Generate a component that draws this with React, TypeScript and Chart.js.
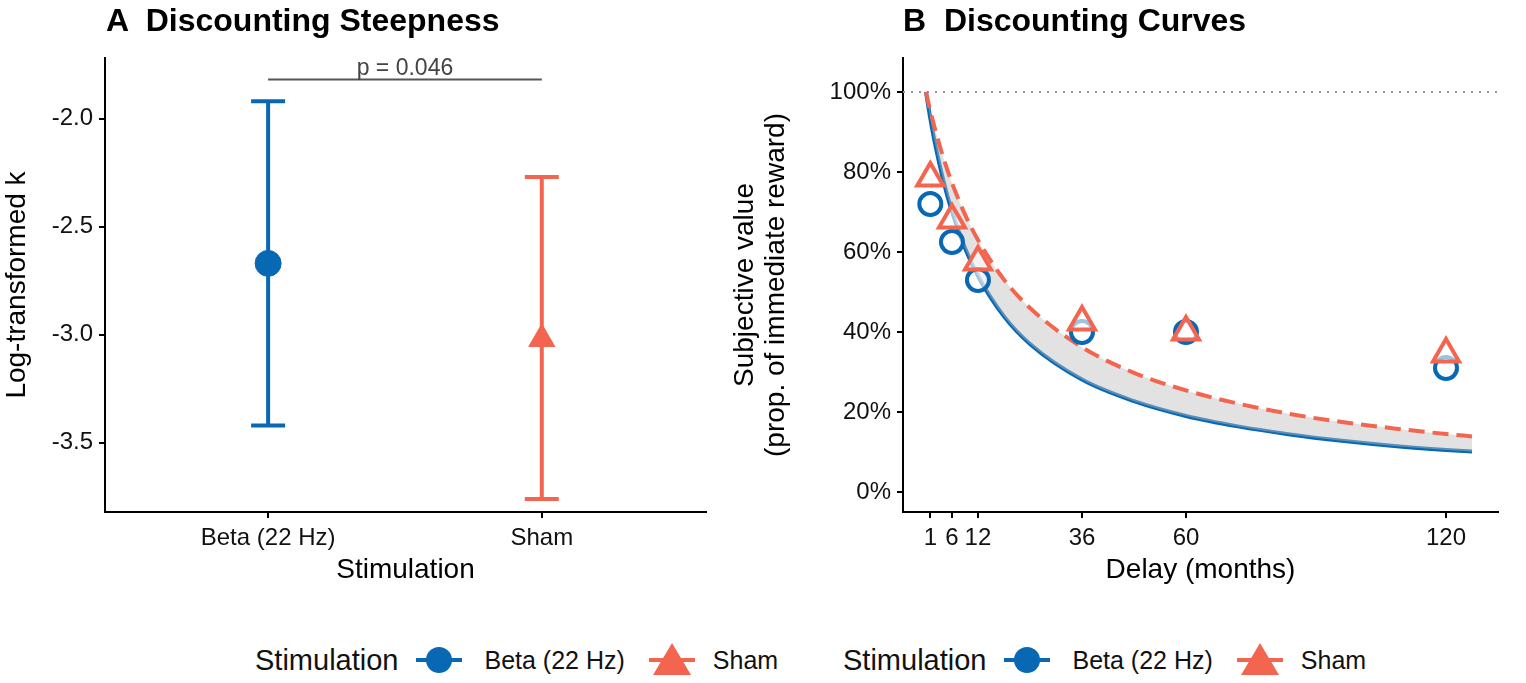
import React, { useEffect, useRef } from "react";
import { Chart, registerables } from "chart.js";
Chart.register(...registerables);

const BLUE = "#0868b4";
const RED = "#f4654f";
const FONT = "'Liberation Sans', Arial, sans-serif";

// Panel A
const groupsA = ["Beta (22 Hz)", "Sham"];
const meanA = [-2.67, -3.02];
const lowA = [-3.42, -3.76];
const highA = [-1.92, -2.27];
const pLabel = "p = 0.046";
const pLevel = -1.82;

// Panel B
const obsDelays = [1, 6, 12, 36, 60, 120];
const obsBeta = [72, 62.5, 53, 40, 40, 31];
const obsSham = [78.5, 68, 57.5, 42.5, 40, 34.5];
const curveDelays = [0, 1, 2, 4, 6, 9, 12, 18, 24, 36, 48, 60, 72, 84, 96, 108, 120, 126];
const curveBeta = [100, 93.4, 87.6, 77.9, 70.1, 61.0, 54.0, 43.9, 37.0, 28.1, 22.7, 19.0, 16.4, 14.4, 12.8, 11.5, 10.5, 10.1];
const curveSham = [100, 95.3, 91.1, 83.6, 77.3, 69.4, 63.0, 53.1, 46.0, 36.2, 29.8, 25.4, 22.1, 19.5, 17.5, 15.9, 14.5, 13.9];
const xTicksB = [1, 6, 12, 36, 60, 120];

const tickFont = { family: FONT, size: 24 };
const titleFont = { family: FONT, size: 28 };

function axisBase() {
  return {
    border: { color: "#000", width: 2 },
    grid: { drawOnChartArea: false, color: "#000", tickLength: 6, lineWidth: 2 },
    ticks: { font: tickFont, color: "#111", padding: 6 },
  };
}

export default function App() {
  const refA = useRef<HTMLCanvasElement>(null);
  const refB = useRef<HTMLCanvasElement>(null);
  useEffect(() => {
    document.body.style.margin = "0";
    const errPlugin = {
      id: "err",
      afterDatasetsDraw(chart: any) {
        const { ctx, scales } = chart;
        const x = scales.x, y = scales.y;
        [BLUE, RED].forEach((c, i) => {
          const px = x.getPixelForValue(i + 1);
          ctx.save();
          ctx.strokeStyle = c;
          ctx.lineWidth = 4;
          ctx.beginPath();
          ctx.moveTo(px, y.getPixelForValue(lowA[i]));
          ctx.lineTo(px, y.getPixelForValue(highA[i]));
          [lowA[i], highA[i]].forEach((v) => {
            ctx.moveTo(px - 17, y.getPixelForValue(v));
            ctx.lineTo(px + 17, y.getPixelForValue(v));
          });
          ctx.stroke();
          ctx.restore();
        });
        const py = y.getPixelForValue(pLevel);
        ctx.save();
        ctx.strokeStyle = "#555";
        ctx.lineWidth = 2;
        ctx.beginPath();
        ctx.moveTo(x.getPixelForValue(1), py);
        ctx.lineTo(x.getPixelForValue(2), py);
        ctx.stroke();
        ctx.fillStyle = "#444";
        ctx.font = `23px ${FONT}`;
        ctx.textAlign = "center";
        ctx.textBaseline = "bottom";
        ctx.fillText(pLabel, (x.getPixelForValue(1) + x.getPixelForValue(2)) / 2, py + 1);
        ctx.restore();
      },
    };
    const a = new Chart(refA.current!, {
      type: "scatter",
      data: {
        datasets: groupsA.map((g, i) => ({
          label: g,
          data: [{ x: i + 1, y: meanA[i] }],
          pointStyle: i === 0 ? "circle" : "triangle",
          pointRadius: i === 0 ? 13 : 15,
          backgroundColor: i === 0 ? BLUE : RED,
          borderColor: i === 0 ? BLUE : RED,
        })),
      },
      options: {
        animation: false, responsive: false,
        layout: { padding: { top: 58, right: 0, left: 0 } },
        plugins: { legend: { display: false }, tooltip: { enabled: false } },
        scales: {
          x: {
            ...axisBase(), type: "linear", min: 0.404, max: 2.6,
            afterBuildTicks: (s: any) => { s.ticks = [{ value: 1 }, { value: 2 }]; },
            ticks: { ...axisBase().ticks, callback: (v: any) => groupsA[v - 1] },
            title: { display: true, text: "Stimulation", font: titleFont, color: "#000", padding: 0 },
            afterFit: (s: any) => { s.height = 75; },
          },
          y: {
            ...axisBase(), min: -3.82, max: -1.72,
            afterBuildTicks: (s: any) => { s.ticks = [-3.5, -3, -2.5, -2].map((v) => ({ value: v })); },
            ticks: { ...axisBase().ticks, callback: (v: any) => v.toFixed(1) },
            title: { display: true, text: "Log-transformed k", font: titleFont, color: "#000", padding: 0 },
            afterFit: (s: any) => { s.width = 105; },
          },
        },
      },
      plugins: [errPlugin],
    });
    const refLine = {
      id: "ref",
      beforeDatasetsDraw(chart: any) {
        const { ctx, scales, chartArea } = chart;
        const py = scales.y.getPixelForValue(100);
        ctx.save();
        ctx.strokeStyle = "#999";
        ctx.lineWidth = 2;
        ctx.setLineDash([2, 6]);
        ctx.beginPath();
        ctx.moveTo(chartArea.left, py);
        ctx.lineTo(chartArea.right, py);
        ctx.stroke();
        ctx.restore();
      },
    };
    const b = new Chart(refB.current!, {
      type: "scatter",
      data: {
        datasets: [
          { label: "betaCurve", data: curveDelays.map((d, i) => ({ x: d, y: curveBeta[i] })), showLine: true, borderColor: BLUE, borderWidth: 4, pointRadius: 0, cubicInterpolationMode: "monotone", fill: false, order: 3 },
          { label: "shamCurve", data: curveDelays.map((d, i) => ({ x: d, y: curveSham[i] })), showLine: true, borderColor: RED, borderWidth: 4, borderDash: [16, 8], pointRadius: 0, cubicInterpolationMode: "monotone", fill: { target: 0 }, backgroundColor: "rgba(190,190,190,0.45)", order: 2 },
          { label: "Beta", data: obsDelays.map((d, i) => ({ x: d, y: obsBeta[i] })), pointStyle: "circle", pointRadius: 11, borderWidth: 4, borderColor: BLUE, backgroundColor: "rgba(255,255,255,0.6)", order: 1 },
          { label: "Sham", data: obsDelays.map((d, i) => ({ x: d, y: obsSham[i] })), pointStyle: "triangle", pointRadius: 15, borderWidth: 4, borderColor: RED, backgroundColor: "rgba(255,255,255,0.6)", order: 0 },
        ] as any,
      },
      options: {
        animation: false, responsive: false,
        layout: { padding: { top: 58, right: 0, left: 0 } },
        plugins: { legend: { display: false }, tooltip: { enabled: false } },
        scales: {
          x: {
            ...axisBase(), type: "linear", min: -5.3, max: 132,
            afterBuildTicks: (s: any) => { s.ticks = xTicksB.map((v) => ({ value: v })); },
            ticks: { ...axisBase().ticks, autoSkip: false, maxRotation: 0, callback: (v: any) => String(v) },
            title: { display: true, text: "Delay (months)", font: titleFont, color: "#000", padding: 0 },
            afterFit: (s: any) => { s.height = 75; },
          },
          y: {
            ...axisBase(), min: -5, max: 108.5,
            afterBuildTicks: (s: any) => { s.ticks = [0, 20, 40, 60, 80, 100].map((v) => ({ value: v })); },
            ticks: { ...axisBase().ticks, callback: (v: any) => v + "%" },
            title: { display: true, text: ["Subjective value", "(prop. of immediate reward)"], font: { ...titleFont, lineHeight: 1.1 }, color: "#000", padding: 0 },
            afterFit: (s: any) => { s.width = 173; },
          },
        },
      },
      plugins: [refLine],
    });
    return () => { a.destroy(); b.destroy(); };
  }, []);

  const legend = (left: number) => (
    <div style={{ position: "absolute", left, top: 640, display: "flex", alignItems: "center", fontFamily: FONT, fontSize: 29, color: "#111", whiteSpace: "nowrap" }}>
      <span style={{ marginRight: 16 }}>Stimulation</span>
      <svg width="50" height="40"><line x1="2" y1="20" x2="48" y2="20" stroke={BLUE} strokeWidth="4" /><circle cx="25" cy="20" r="13" fill={BLUE} /></svg>
      <span style={{ marginLeft: 20, marginRight: 22, fontSize: 25 }}>Beta (22 Hz)</span>
      <svg width="50" height="40"><line x1="2" y1="20" x2="48" y2="20" stroke={RED} strokeWidth="4" /><polygon points="25,3 44,35 6,35" fill={RED} /></svg>
      <span style={{ marginLeft: 16, fontSize: 25 }}>Sham</span>
    </div>
  );
  const title = (left: number, text: string) => (
    <div style={{ position: "absolute", left, top: 2, fontFamily: FONT, fontWeight: "bold", fontSize: 32, color: "#000", whiteSpace: "pre" }}>{text}</div>
  );
  return (
    <div style={{ position: "relative", width: 1526, height: 683, background: "#fff", overflow: "hidden" }}>
      <canvas ref={refA} width={722} height={587} style={{ position: "absolute", left: 0, top: 0 }} />
      <canvas ref={refB} width={787} height={587} style={{ position: "absolute", left: 730, top: 0 }} />
      {title(106, "A  Discounting Steepness")}
      {title(903, "B  Discounting Curves")}
      {legend(255)}
      {legend(843)}
    </div>
  );
}
